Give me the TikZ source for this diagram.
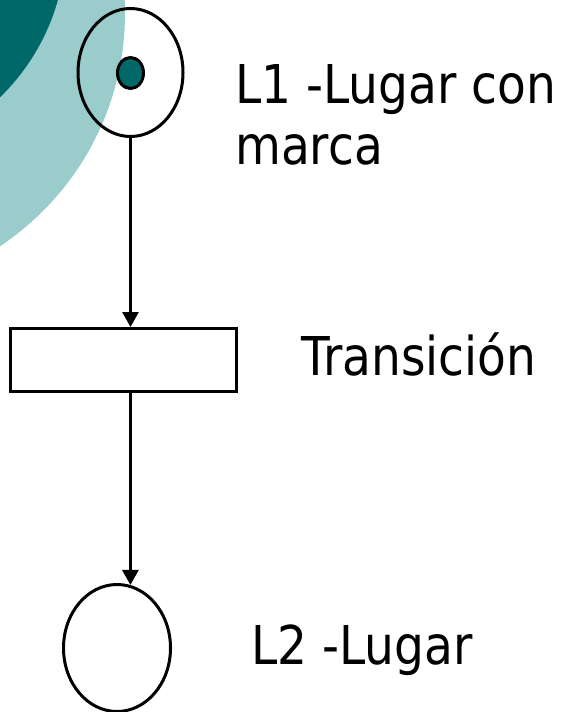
\documentclass[tikz,border=0pt]{standalone}
\usepackage{fontspec}
\usetikzlibrary{arrows.meta,shapes.geometric}
\newfontfamily\slidefont[FakeStretch=0.88]{DejaVu Sans}
\definecolor{tealdark}{HTML}{006868}
\definecolor{teallight}{HTML}{9ACCCC}

\begin{document}
\begin{tikzpicture}[x=1pt,y=-1pt,
    arc/.style={-{Triangle[length=15pt,width=16pt]},line width=2.8pt},
    place/.style={ellipse,draw,line width=3pt,inner sep=0pt},
    trans/.style={rectangle,draw,line width=3pt,inner sep=0pt,minimum width=226pt,minimum height=63pt},
    label/.style={inner sep=0pt,anchor=base west,align=left,font=\slidefont\fontsize{53.5}{61}\selectfont}]
\useasboundingbox (0,0) rectangle (566,712);
% background decoration
\begin{scope}
  \clip (0,0) rectangle (566,712);
  \fill [teallight] (-155,13) circle (280);
  \fill [tealdark] (-152,-59) circle (218);
\end{scope}
% places and transition
\node [place,minimum width=105pt,minimum height=128pt] (l1) at (130.5,72.5) {};
\node [ellipse,draw,line width=3pt,fill=tealdark,inner sep=0pt,minimum width=26pt,minimum height=31pt] (mark) at (130.5,73) {};
\node [trans] (t) at (123.5,360) {};
\node [place,minimum width=107pt,minimum height=127pt] (l2) at (117,648) {};
% arcs
\draw [arc] (l1.south) -- (l1.south |- t.north);
\draw [arc] (t.south -| l2.78) -- (l2.78);
% labels
\node [label] (l1text) at (235,164) {L1 -Lugar con\\marca};
\node [label] (ttext) at (301,375) {Transición};
\node [label] (l2text) at (251,664) {L2 -Lugar};
\end{tikzpicture}
\end{document}
